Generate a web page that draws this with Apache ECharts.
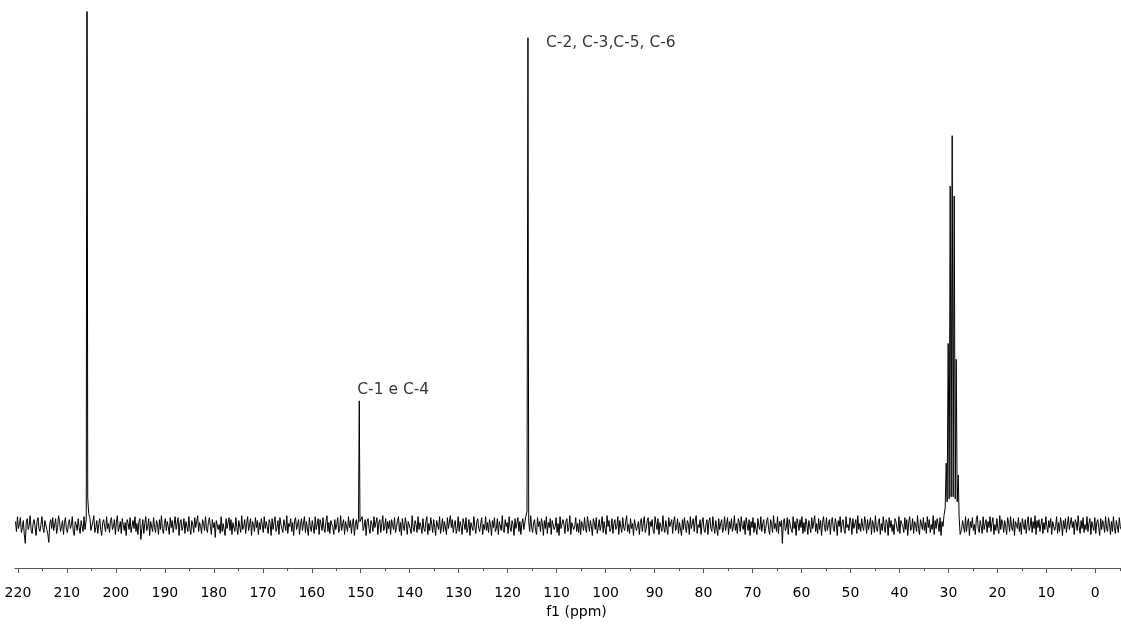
<!DOCTYPE html>
<html>
<head>
<meta charset="utf-8">
<script src="https://cdn.jsdelivr.net/npm/echarts@6/dist/echarts.min.js"></script>
<style>html,body{margin:0;padding:0;background:#fff}#c{width:1121px;height:624px}</style>
</head>
<body>
<div id="c"></div>
<script>
// ---- data ----
const majorTicks = [0,10,20,30,40,50,60,70,80,90,100,110,120,130,140,150,160,170,180,190,200,210,220];
const minorTicks = [-5,5,15,25,35,45,55,65,75,85,95,105,115,125,135,145,155,165,175,185,195,205,215];
const axisName = 'f1 (ppm)';

// baseline noise, sampled from 220.5 ppm downward every 0.2 ppm
const noiseStartPpm = 220.5;
const noiseStepPpm = 0.2;
const noise = [
4,-6,9,-3,1,8,-7,-2,5,-9,-18,3,7,-4,0,10,-5,-8,2,6,-1,-10,4,8,-3,-6,1,9,-2,-7,5,3,
-4,-9,-17,2,6,-3,8,-5,1,7,-8,-2,10,4,-6,-1,5,-9,3,8,-4,-7,2,6,-3,0,9,-6,-10,4,1,-5,
7,-2,-8,5,3,-6,9,-4,-1,6,-9,2,8,-5,-3,4,10,-7,-2,5,-8,1,7,-4,-10,3,6,-1,-6,9,-3,2,
-7,5,8,-4,-1,6,-9,3,10,-6,-2,4,-8,7,1,-5,3,-10,6,2,-4,8,-7,-1,5,-3,9,-6,2,-9,4,7,
-14,-3,6,-8,2,9,-5,-1,7,-10,4,3,-6,8,-2,-7,5,1,-9,6,-4,10,-3,-8,2,7,-5,4,-1,-9,8,-2,
5,-7,1,9,-4,-2,8,-10,3,6,-5,-1,7,-8,4,2,-6,9,-3,-9,5,1,-7,8,-2,-4,10,-6,3,-1,-8,6,
2,-5,9,-3,-7,4,8,-1,-9,6,-2,3,-12,5,7,-4,1,-8,9,-6,2,4,-10,7,-3,-1,8,-5,6,-9,3,1,
-6,8,-2,-9,5,3,-7,10,-4,-1,6,-8,2,9,-5,-3,7,-10,4,1,-6,8,-2,5,-9,3,-4,7,1,-7,9,-3,
4,-1,-8,6,2,-10,7,-4,3,9,-6,-2,5,-9,8,1,-3,-7,6,4,-5,10,-8,2,-1,7,-6,3,-10,5,8,-4,
-2,6,-9,1,7,-5,-3,9,-7,4,2,-10,8,-1,-6,5,3,-8,9,-4,-2,7,-9,6,1,-5,8,-3,-7,4,10,-6,
3,-8,5,7,-2,-9,6,-4,1,8,-7,-3,10,-5,2,6,-9,4,-1,-6,9,-2,5,-8,3,7,-10,1,6,-4,-3,8,
-7,2,9,-5,-1,6,-10,4,7,-3,-8,5,1,-6,9,-2,-4,8,-9,3,6,-7,2,10,-5,-1,7,-8,4,-3,5,-9,
6,1,-4,8,-7,-2,5,9,-6,3,-10,7,-1,-5,8,2,-9,4,6,-3,-8,10,-2,-6,5,1,-7,9,-4,3,-1,-8,
7,-3,-6,4,9,-9,2,-5,8,1,-7,6,-2,-10,5,3,-4,9,-8,-1,7,-6,4,2,-9,8,-3,-5,10,-2,6,-7,
1,5,-8,-3,9,-6,4,-1,-9,7,2,-4,8,-7,-2,6,-10,3,5,-5,9,-1,-8,4,7,-3,-6,2,8,-9,1,-4,
9,-5,3,-7,6,1,-10,5,-2,8,-6,-3,7,-9,4,2,-5,10,-4,-7,6,-1,3,-8,9,-2,-6,5,1,-10,7,-3,
-1,8,-6,4,-9,2,7,-4,-3,9,-8,5,1,-6,10,-2,-7,3,6,-5,-9,8,-1,4,-6,7,2,-10,5,-3,9,-8,
3,-2,7,-9,5,6,-4,-1,8,-7,2,-10,9,-3,-5,6,1,-8,4,7,-6,-2,10,-9,3,5,-4,-1,8,-6,2,-7,
6,-9,4,1,-5,8,-3,-7,9,2,-6,5,-1,-10,7,3,-4,8,-8,-2,6,-5,1,9,-7,4,-3,-9,10,-1,5,-6,
-3,7,-8,2,6,-4,-1,9,-9,5,3,-7,8,-2,-5,4,10,-6,1,-8,7,-3,2,-10,6,8,-5,-1,4,-9,3,7,
-6,2,9,-7,-3,5,8,-10,4,-1,6,-5,-8,9,2,-4,7,-9,3,1,-6,10,-2,-7,5,4,-9,8,-1,-3,6,-8,
4,9,-5,-2,7,-8,3,1,-10,6,-4,8,-1,-7,5,2,-9,9,-3,-5,7,-6,4,10,-8,1,-2,6,-9,3,8,-4,
-7,1,6,-9,4,8,-3,-6,9,-1,-8,5,3,-10,7,-4,2,6,-7,-2,9,-5,1,8,-9,4,-3,7,-6,-1,10,-5,
2,-8,7,3,-6,9,-1,-4,5,-9,8,1,-5,6,-10,4,-2,8,-7,3,5,-9,7,-1,-4,9,-6,2,6,-8,-3,5,
8,-4,-9,6,1,-7,10,-3,2,-6,9,-8,4,-1,5,-18,3,7,-5,-2,8,-9,6,1,-4,-7,9,-3,4,-10,7,2,
-5,6,-2,9,-8,3,-6,7,1,-9,5,4,-7,8,-3,-1,10,-6,2,-8,7,-4,5,-10,3,9,-2,-6,8,-5,1,6,
-9,4,8,-3,-6,7,2,-10,5,-1,9,-7,3,6,-4,-8,9,-2,1,-5,8,4,-9,7,-3,-1,6,-8,10,-4,2,-6,
7,-1,-5,9,3,-8,6,-4,-2,8,-9,5,1,-7,10,-3,-6,4,7,-9,2,-5,9,-1,-7,6,3,-10,8,-2,5,-6,
1,-9,7,4,-3,-6,9,-8,5,2,-1,-7,8,-4,6,-10,3,9,-5,-2,7,-8,4,1,-6,10,-3,-9,6,2,-4,8,
-5,3,-8,9,-2,6,-7,1,-4,10,-9,5,-3,7,2,-6,8,-10,4,-1,6,-7,9,-5,3,-2,8,-9,1,5,-6,7,
-3,-8,6,2,-9,8,-4,5,-1,-7,9,-6,3,7,-10,4,-2,8,-5,1,-9,6,10,-3,-7,5,-1,-8,9,-4,2,6,
-7,4,-2,9,-6,3,8,-9,1,-5,7,-3,-8,10,-4,6,2,-7,5,-1,-9,8,3,-6,9,-2,-5,7,-10,4,1,-3,
8,-6,3,-9,7,1,-4,6,-8,2,9,-5,-1,8,-7,4,-3,10,-9,5,-2,6,-6,1,7,-8,3,-4,9,-1,-7,5,
-2,7,-9,4,6,-5,-1,9,-8,3,-6,8,2,-10,5,-3,7,-7,1,9,-4,-6,8,-2,4,-9,6,3,-5,10,-1,-8,
5,-3,8,-7,1,-4,9,-6,2,7,-9,4,-1,-5,8,-8,3,6,-2,-10,7,-4,5,1,-7,9,-3,-6,8,2,-9,4,
-6,9,-2,-8,5,3,-7,8,-1,-4,6,-9,7,2,-5,10,-3,-8,4,1,-6,9,-7,3,-2,8,-5,-1,7,-9,4,-3
];

// resonances [ppm, intensity]
const peakPoints = [
  [206.05, 6], [205.9, 700], [205.75, 28], [205.55, 12],
  [150.45, 6], [150.3, 126], [150.15, 4],
  [116.05, 14], [115.85, 493], [115.7, 4],
  [30.9, 10], [30.65, 18], [30.45, 63], [30.25, 24], [30.04, 184], [29.84, 27],
  [29.63, 343], [29.43, 29], [29.22, 394], [29.02, 29], [28.81, 333], [28.6, 27],
  [28.40, 168], [28.2, 24], [27.99, 51], [27.8, 8], [27.6, -9]
];

const annotationText = ['C-1 e C-4', 'C-2, C-3,C-5, C-6'];
const annotationAt = [[150.3, 126], [115.85, 493]];

// ---- build spectrum ----
const pts = [];
noise.forEach((v, i) => {
  const ppm = noiseStartPpm - i * noiseStepPpm;
  if (!peakPoints.some(p => Math.abs(p[0] - ppm) < 0.11)) pts.push([ppm, v]);
});
peakPoints.forEach(p => pts.push([p[0], p[1]]));
pts.sort((a, b) => b[0] - a[0]);

const FONT = 'DejaVu Sans';
const chart = echarts.init(document.getElementById('c'), null, {renderer: 'canvas'});
const xCommon = {type: 'value', inverse: true, min: -5.25, max: 220.6, splitLine: {show: false}, gridIndex: 0};
chart.setOption({
  animation: false,
  backgroundColor: '#ffffff',
  grid: {left: 15, right: 0, top: 12, bottom: 50, containLabel: false},
  xAxis: [
    Object.assign({}, xCommon, {
      position: 'bottom',
      name: axisName, nameLocation: 'middle', nameGap: 34,
      nameTextStyle: {fontFamily: FONT, fontSize: 14, color: '#000', padding: [0, 0, 0, 17]},
      axisLine: {show: true, onZero: false, lineStyle: {color: '#555', width: 1}},
      axisTick: {show: true, length: 5, customValues: majorTicks, lineStyle: {color: '#555', width: 1}},
      axisLabel: {show: true, customValues: majorTicks, margin: 18, fontFamily: FONT, fontSize: 14, color: '#000'}
    }),
    Object.assign({}, xCommon, {
      position: 'bottom',
      axisLine: {show: false, onZero: false},
      axisTick: {show: true, length: 3, customValues: minorTicks, lineStyle: {color: '#555', width: 1}},
      axisLabel: {show: false}
    })
  ],
  yAxis: {type: 'value', min: -43, max: 519, show: false, splitLine: {show: false}},
  series: [
    {
      type: 'line', xAxisIndex: 0, data: pts, showSymbol: false, symbol: 'none',
      lineStyle: {color: '#000', width: 1}, clip: true, silent: true
    },
    {
      type: 'scatter', xAxisIndex: 0, data: annotationAt, symbolSize: 0, silent: true,
      label: {
        show: true, fontFamily: FONT, fontSize: 15.5, color: '#000', align: 'left', verticalAlign: 'middle',
        formatter: p => annotationText[p.dataIndex]
      },
      labelLayout: p => p.dataIndex === 0 ? {dx: -2, dy: -11} : {dx: 18, dy: 5}
    }
  ]
});
</script>
</body>
</html>
